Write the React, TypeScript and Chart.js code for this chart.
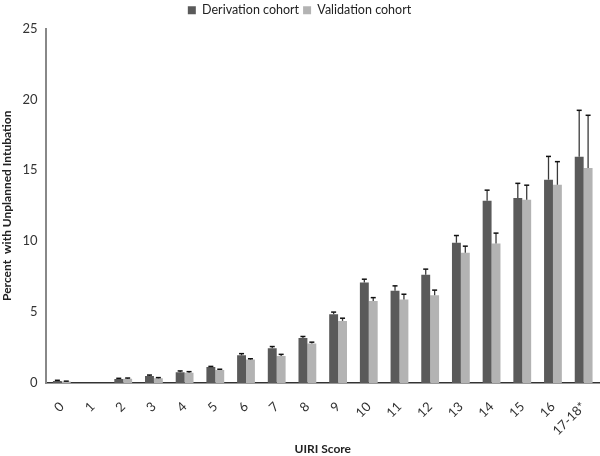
import React, { useEffect, useRef } from "react";
import { Chart, registerables } from "chart.js";

Chart.register(...registerables);

const categories = ["0", "1", "2", "3", "4", "5", "6", "7", "8", "9", "10", "11", "12", "13", "14", "15", "16", "17-18*"];
const derivation = [0.14, 0, 0.28, 0.5, 0.75, 1.12, 1.95, 2.45, 3.18, 4.85, 7.08, 6.5, 7.63, 9.89, 12.85, 13.04, 14.34, 15.96];
const validation = [0.1, 0, 0.3, 0.33, 0.72, 0.92, 1.65, 1.9, 2.78, 4.38, 5.79, 5.88, 6.19, 9.18, 9.84, 12.92, 13.98, 15.16];
const derivationErr = [0.05, 0, 0.05, 0.06, 0.1, 0.05, 0.12, 0.12, 0.1, 0.15, 0.24, 0.35, 0.4, 0.51, 0.75, 1.04, 1.64, 3.27];
const validationErr = [0.03, 0, 0.05, 0.05, 0.08, 0.05, 0.06, 0.12, 0.1, 0.19, 0.23, 0.38, 0.36, 0.47, 0.73, 1.03, 1.63, 3.72];
const yTicks = [0, 5, 10, 15, 20, 25];

const FONT = "Lato, 'Open Sans', sans-serif";

const errorBarPlugin = {
  id: "errorBars",
  afterDatasetsDraw(chart: any) {
    const ctx = chart.ctx;
    const y = chart.scales.y;
    const errs = [derivationErr, validationErr];
    ctx.save();
    chart.data.datasets.forEach((ds: any, di: number) => {
      const meta = chart.getDatasetMeta(di);
      meta.data.forEach((bar: any, i: number) => {
        const v = ds.data[i];
        const e = errs[di][i];
        if (!e) return;
        const x = bar.x;
        const y0 = y.getPixelForValue(v);
        const y1 = y.getPixelForValue(v + e);
        ctx.strokeStyle = "#3a3a3a";
        ctx.lineWidth = 1.3;
        ctx.beginPath();
        ctx.moveTo(x, y0);
        ctx.lineTo(x, y1);
        ctx.stroke();
        ctx.strokeStyle = "#111";
        ctx.lineWidth = 1.5;
        ctx.beginPath();
        ctx.moveTo(x - 2.5, y1);
        ctx.lineTo(x + 2.5, y1);
        ctx.stroke();
      });
    });
    ctx.restore();
  },
};

const legendSpacePlugin = {
  id: "legendSpace",
  beforeInit(chart: any) {
    const legend = chart.legend;
    if (!legend) return;
    const origFit = legend.fit;
    legend.fit = function () {
      origFit.call(this);
      this.height += 2;
    };
  },
};

export default function App() {
  const ref = useRef<HTMLCanvasElement | null>(null);
  useEffect(() => {
    if (!ref.current) return;
    const chart = new Chart(ref.current, {
      type: "bar",
      data: {
        labels: categories,
        datasets: [
          { label: "Derivation cohort", data: derivation, backgroundColor: "#5a5a5a" },
          { label: "Validation cohort", data: validation, backgroundColor: "#b3b3b3" },
        ],
      },
      options: {
        animation: false,
        responsive: false,
        maintainAspectRatio: false,
        layout: { padding: { top: 0, right: 1, left: 0, bottom: 0 } },
        datasets: { bar: { categoryPercentage: 0.58, barPercentage: 1 } },
        plugins: {
          legend: {
            position: "top",
            labels: {
              boxWidth: 8,
              boxHeight: 8,
              padding: 4,
              color: "#222",
              font: { family: FONT, size: 12.5 },
            },
          },
          tooltip: { enabled: false },
        },
        scales: {
          x: {
            afterFit: (scale: any) => {
              scale.height = 73;
              scale.paddingRight = 0;
              scale.paddingLeft = 0;
            },
            grid: { display: false, drawTicks: false },
            border: { color: "#333", width: 1.5 },
            ticks: {
              minRotation: 45,
              maxRotation: 45,
              color: "#333",
              padding: 16,
              font: { family: FONT, size: 13 },
            },
            title: {
              display: true,
              text: "UIRI Score",
              color: "#222",
              font: { family: FONT, size: 12, weight: "bold" },
              padding: { top: 4, bottom: 0 },
            },
          },
          y: {
            min: 0,
            max: 25,
            afterBuildTicks: (scale: any) => {
              scale.ticks = yTicks.map((v) => ({ value: v }));
            },
            grid: { display: false, drawOnChartArea: false, drawTicks: true, tickLength: 5, color: "#888" },
            border: { color: "#888", width: 2 },
            ticks: {
              color: "#333",
              padding: 4,
              font: { family: FONT, size: 13 },
            },
            title: {
              display: true,
              text: "Percent  with Unplanned Intubation",
              color: "#222",
              font: { family: FONT, size: 12, weight: "bold" },
              padding: { top: 0, bottom: 4 },
            },
          },
        },
      },
      plugins: [errorBarPlugin, legendSpacePlugin],
    });
    return () => chart.destroy();
  }, []);
  return (
    <div style={{ position: "fixed", left: 0, top: 0, width: 600, height: 456, background: "#fff" }}>
      <canvas ref={ref} width={600} height={456} />
    </div>
  );
}
